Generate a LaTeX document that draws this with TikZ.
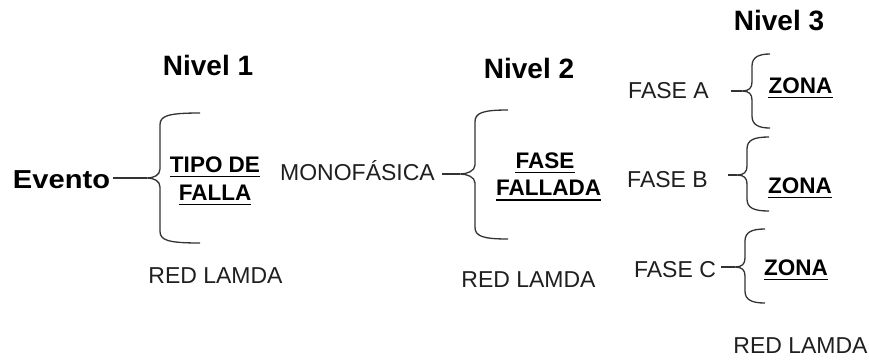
\documentclass[tikz,border=0pt]{standalone}
\usepackage{fontspec}
\setmainfont{Liberation Sans}
\newfontfamily\evfont[FakeStretch=1.12]{Liberation Sans}
\newcommand\mybrace[6]{%
  \draw[brc] (#4,#2) .. controls ({#1+7},#2) and (#1,{#2+3}) .. (#1,{#2+12})
    -- (#1,{#6-9}) .. controls (#1,{#6-3}) and ({#5+7},#6) .. (#5,#6)
    .. controls ({#5+7},#6) and (#1,{#6+3}) .. (#1,{#6+9})
    -- (#1,{#3-12}) .. controls (#1,{#3-3}) and ({#1+7},#3) .. (#4,#3);}
\newcommand\ulnode[1]{\draw[ul] ([yshift=-4.5pt]#1.base west) -- ([yshift=-4.5pt]#1.base east);}
\tikzset{
  lbl/.style={anchor=base, inner sep=0pt, text=black!88, font=\fontsize{23}{23}\selectfont},
  bld/.style={anchor=base, inner sep=0pt, font=\fontsize{22.5}{22.5}\selectfont\bfseries},
  lvl/.style={anchor=base, inner sep=0pt, font=\fontsize{28}{28}\selectfont\bfseries},
  brc/.style={draw=black!80, line width=1.3pt},
  ul/.style={line width=1.4pt}
}
\begin{document}
\begin{tikzpicture}[x=1pt,y=-1pt]
\useasboundingbox[fill=white] (0,0) rectangle (869,360);
% level titles
\node[lvl] (n1) at (208,75) {Nivel 1};
\node[lvl] (n2) at (529,78) {Nivel 2};
\node[lvl] (n3) at (779,30) {Nivel 3};
% level 1
\node[anchor=base, inner sep=0pt, font=\evfont\fontsize{26}{26}\selectfont\bfseries] (ev) at (61.5,188) {Evento};
\node[bld] (tipo) at (215,172) {TIPO DE};
\node[bld] (falla) at (215,200) {FALLA};
\ulnode{tipo}\ulnode{falla}
\node[lbl] (red1) at (215.5,283) {RED LAMDA};
\coordinate (c1) at (147,178);
\mybrace{160}{113}{243}{200}{147}{178}
\draw[brc] (ev.east |- c1) ++(3,0) -- (c1);
% level 2
\node[lbl] (mono) at (357.5,180) {MONOFÁSICA};
\node[bld] (fase) at (545,168) {FASE};
\node[bld] (fallada) at (548.5,195.5) {FALLADA};
\ulnode{fase}\ulnode{fallada}
\node[lbl] (red2) at (528.5,287) {RED LAMDA};
\coordinate (c2) at (460,174);
\mybrace{475}{110}{239}{508}{460}{174}
\draw[brc] (mono.east |- c2) ++(7,0) -- (c2);
% level 3
\node[lbl] (fa) at (668.5,98) {FASE A};
\node[lbl] (fb) at (667.5,187) {FASE B};
\node[lbl] (fc) at (675,277) {FASE C};
\node[bld] (za) at (800.5,93) {ZONA};
\node[bld] (zb) at (800,193) {ZONA};
\node[bld] (zc) at (796,275) {ZONA};
\ulnode{za}\ulnode{zb}\ulnode{zc}
\node[lbl] (red3) at (800.5,353) {RED LAMDA};
\coordinate (ca) at (742,91);
\coordinate (cb) at (737,175);
\coordinate (cc) at (735,267);
\mybrace{752}{54}{128}{770}{742}{91}
\mybrace{747}{137}{211}{769}{737}{175}
\mybrace{745}{229}{303}{765}{735}{267}
\draw[brc] (fa.east |- ca) ++(22,0) -- (ca);
\draw[brc] (fb.east |- cb) ++(20,0) -- (cb);
\draw[brc] (fc.east |- cc) ++(5,0) -- (cc);
\end{tikzpicture}
\end{document}
